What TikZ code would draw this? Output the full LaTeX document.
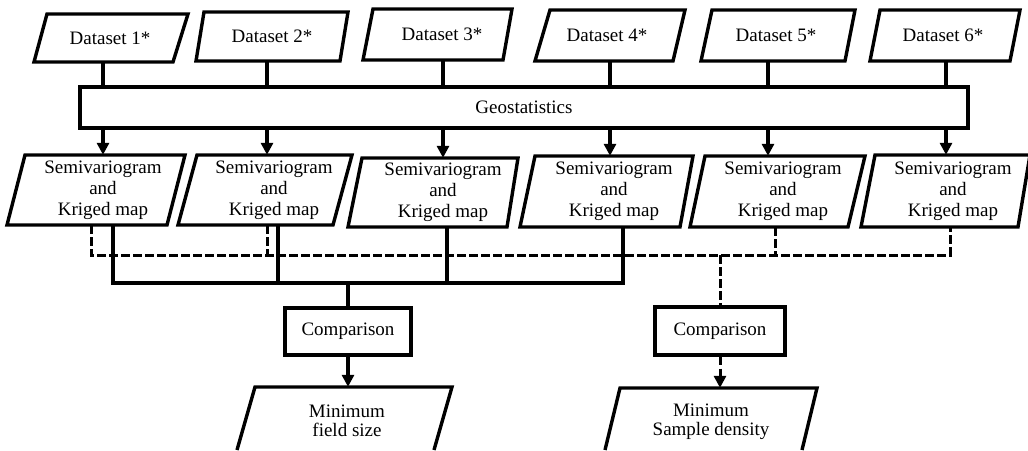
\documentclass[tikz,border=0pt]{standalone}
\usepackage{fontspec}
\setmainfont{Liberation Serif}
\usetikzlibrary{arrows.meta}
\begin{document}
\begin{tikzpicture}[x=1pt,y=-1pt,
  pbox/.style={line width=3.4pt, line join=miter},
  nbox/.style={draw, line width=3.4pt},
  txt/.style={inner sep=0pt, align=center, font=\fontsize{19}{21}\selectfont, minimum width=100pt},
  mtxt/.style={txt, font=\fontsize{19}{19}\selectfont},
  conn/.style={line width=3.2pt},
  dsh/.style={line width=3pt, dash pattern=on 8.5pt off 3.5pt},
  arr/.style={conn, -{Triangle[length=12pt,width=12pt]}},
  darr/.style={dsh, -{Triangle[length=12pt,width=12pt]}},
]
\useasboundingbox (0,0) rectangle (1028,450);

% Dataset parallelograms
\draw[pbox] (47,14) -- (188,14) -- (173,62) -- (34,62) -- cycle;
\draw[pbox] (204,12) -- (348,12) -- (340,61) -- (196,61) -- cycle;
\draw[pbox] (373,9) -- (512,9) -- (503,60) -- (363,60) -- cycle;
\draw[pbox] (550,10) -- (685,10) -- (673,61) -- (535,61) -- cycle;
\draw[pbox] (712,10) -- (855,10) -- (845,61) -- (701,61) -- cycle;
\draw[pbox] (880,10) -- (1020,10) -- (1010,61) -- (870,61) -- cycle;
\node[txt, minimum height=48pt] (d1) at (110,38) {Dataset 1*};
\node[txt, minimum height=49pt] (d2) at (272,36.5) {Dataset 2*};
\node[txt, minimum height=51pt] (d3) at (442,34.5) {Dataset 3*};
\node[txt, minimum height=51pt] (d4) at (607,35.5) {Dataset 4*};
\node[txt, minimum height=51pt] (d5) at (776,35.5) {Dataset 5*};
\node[txt, minimum height=51pt] (d6) at (943,35.5) {Dataset 6*};

% Geostatistics
\node[txt, nbox, minimum width=888pt, minimum height=41pt] (geo) at (524,107.5) {Geostatistics};

\draw[conn] ([xshift=-7pt]d1.south) -- ([xshift=-7pt]d1.south |- geo.north);
\draw[conn] ([xshift=-5pt]d2.south) -- ([xshift=-5pt]d2.south |- geo.north);
\draw[conn] ([xshift=1pt]d3.south) -- ([xshift=1pt]d3.south |- geo.north);
\draw[conn] ([xshift=3pt]d4.south) -- ([xshift=3pt]d4.south |- geo.north);
\draw[conn] ([xshift=-8pt]d5.south) -- ([xshift=-8pt]d5.south |- geo.north);
\draw[conn] ([xshift=3pt]d6.south) -- ([xshift=3pt]d6.south |- geo.north);

% Semivariogram parallelograms
\draw[pbox] (25,155) -- (185,155) -- (167,225) -- (7,225) -- cycle;
\draw[pbox] (197,155) -- (352,155) -- (333,225) -- (178,225) -- cycle;
\draw[pbox] (362,158) -- (518,158) -- (507,227) -- (348,227) -- cycle;
\draw[pbox] (535,156) -- (693,156) -- (680,227) -- (520,227) -- cycle;
\draw[pbox] (705,156) -- (865,156) -- (848,227) -- (690,227) -- cycle;
\draw[pbox] (875,155) -- (1030,155) -- (1018,227) -- (861,227) -- cycle;
\node[txt, minimum height=70pt] (s1) at (103,190) {Semivariogram\\and\\Kriged map};
\node[txt, minimum height=70pt] (s2) at (274,190) {Semivariogram\\and\\Kriged map};
\node[txt, minimum height=69pt] (s3) at (443,192.5) {Semivariogram\\and\\Kriged map};
\node[txt, minimum height=71pt] (s4) at (614,191.5) {Semivariogram\\and\\Kriged map};
\node[txt, minimum height=71pt] (s5) at (783,191.5) {Semivariogram\\and\\Kriged map};
\node[txt, minimum height=72pt] (s6) at (953,191) {Semivariogram\\and\\Kriged map};

\draw[arr] (s1.north |- geo.south) -- (s1.north);
\draw[arr] ([xshift=-7pt]s2.north |- geo.south) -- ([xshift=-7pt]s2.north);
\draw[arr] (s3.north |- geo.south) -- (s3.north);
\draw[arr] ([xshift=-4pt]s4.north |- geo.south) -- ([xshift=-4pt]s4.north);
\draw[arr] ([xshift=-15pt]s5.north |- geo.south) -- ([xshift=-15pt]s5.north);
\draw[arr] ([xshift=-7pt]s6.north |- geo.south) -- ([xshift=-7pt]s6.north);

% Comparison boxes
\node[txt, nbox, minimum width=126pt, minimum height=47pt] (cmp1) at (348,331.5) {Comparison};
\node[txt, nbox, minimum width=130pt, minimum height=48pt] (cmp2) at (720,331) {Comparison};

% Buses
\coordinate (jD) at (720,255);
\coordinate (jS) at (348,283);
\draw[dsh] ([xshift=-12pt]s1.south) -- ([xshift=-12pt]s1.south |- jD) -- ([xshift=-3pt]s6.south |- jD) -- ([xshift=-3pt]s6.south);
\draw[dsh] ([xshift=-7pt]s2.south) -- ([xshift=-7pt]s2.south |- jD);
\draw[dsh] ([xshift=-8pt]s5.south) -- ([xshift=-8pt]s5.south |- jD);
\draw[dsh] (jD) -- (cmp2.north);

\draw[conn] ([xshift=10pt]s1.south) -- ([xshift=10pt]s1.south |- jS) -- ([xshift=9pt]s4.south |- jS) -- ([xshift=9pt]s4.south);
\draw[conn] ([xshift=4pt]s2.south) -- ([xshift=4pt]s2.south |- jS);
\draw[conn] ([xshift=4pt]s3.south) -- ([xshift=4pt]s3.south |- jS);
\draw[conn] (jS) -- (cmp1.north);

% Result parallelograms (open at the lower edge of the picture)
\draw[pbox] (237,450) -- (255,387) -- (452,387) -- (434,450);
\draw[pbox] (605,450) -- (620,388) -- (817,388) -- (802,450);
\node[mtxt, minimum height=68pt] (m1) at (347,421) {Minimum\\field size};
\node[mtxt, minimum height=68pt] (m2) at (711,422) {Minimum\\Sample density};

\draw[arr] (cmp1.south) -- (cmp1.south |- m1.north);
\draw[darr] (cmp2.south) -- (cmp2.south |- m2.north);
\end{tikzpicture}
\end{document}
